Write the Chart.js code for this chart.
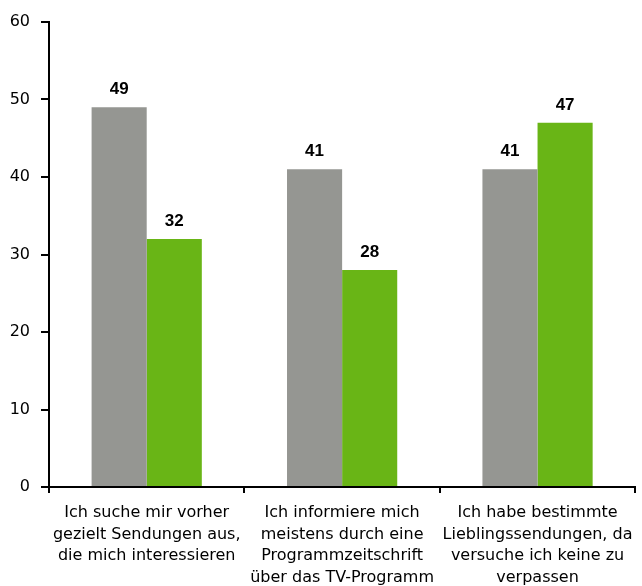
<!DOCTYPE html>
<html>
<head>
<meta charset="utf-8">
<script src="https://cdn.jsdelivr.net/npm/chart.js@4/dist/chart.umd.min.js"></script>
<style>
  html, body { margin: 0; padding: 0; background: #ffffff; }
  #c { display: block; }
</style>
</head>
<body>
<canvas id="c" width="642" height="586"></canvas>
<script>
const categories = [
  ["Ich suche mir vorher", "gezielt Sendungen aus,", "die mich interessieren"],
  ["Ich informiere mich", "meistens durch eine", "Programmzeitschrift", "über das TV-Programm"],
  ["Ich habe bestimmte", "Lieblingssendungen, da", "versuche ich keine zu", "verpassen"]
];
const seriesGray = [49, 41, 41];
const seriesGreen = [32, 28, 47];
const yTicks = [0, 10, 20, 30, 40, 50, 60];

const valueLabels = {
  id: 'valueLabels',
  afterDatasetsDraw(chart) {
    const ctx = chart.ctx;
    ctx.save();
    ctx.font = 'bold 17px "Liberation Sans", Arial, sans-serif';
    ctx.fillStyle = '#000';
    ctx.textAlign = 'center';
    ctx.textBaseline = 'alphabetic';
    chart.data.datasets.forEach((ds, i) => {
      const meta = chart.getDatasetMeta(i);
      meta.data.forEach((bar, j) => {
        ctx.fillText(String(ds.data[j]), bar.x, bar.y - 13);
      });
    });
    ctx.restore();
  }
};

new Chart(document.getElementById('c'), {
  type: 'bar',
  data: {
    labels: categories,
    datasets: [
      { data: seriesGray, backgroundColor: '#959692', categoryPercentage: 0.564, barPercentage: 1.0 },
      { data: seriesGreen, backgroundColor: '#69b516', categoryPercentage: 0.564, barPercentage: 1.0 }
    ]
  },
  options: {
    responsive: false,
    animation: false,
    layout: { padding: { top: 22, right: 3, left: 0, bottom: 0 } },
    plugins: { legend: { display: false }, tooltip: { enabled: false } },
    scales: {
      x: {
        grid: { drawOnChartArea: false, drawTicks: true, tickLength: 6, color: '#000', lineWidth: 2, offset: true },
        border: { color: '#000', width: 2 },
        ticks: {
          color: '#000',
          padding: 9,
          maxRotation: 0,
          autoSkip: false,
          font: { family: '"DejaVu Sans", sans-serif', size: 16, lineHeight: 1.35 }
        },
        afterFit(scale) { scale.height = 99; }
      },
      y: {
        min: 0, max: 60,
        afterBuildTicks(scale) { scale.ticks = yTicks.map(v => ({ value: v })); },
        grid: { drawOnChartArea: false, drawTicks: true, tickLength: 8, color: '#000', lineWidth: 2 },
        border: { color: '#000', width: 2 },
        ticks: {
          color: '#000',
          padding: 11,
          font: { family: '"DejaVu Sans", sans-serif', size: 16 }
        },
        afterFit(scale) { scale.width = 49; }
      }
    }
  },
  plugins: [valueLabels]
});
</script>
</body>
</html>
